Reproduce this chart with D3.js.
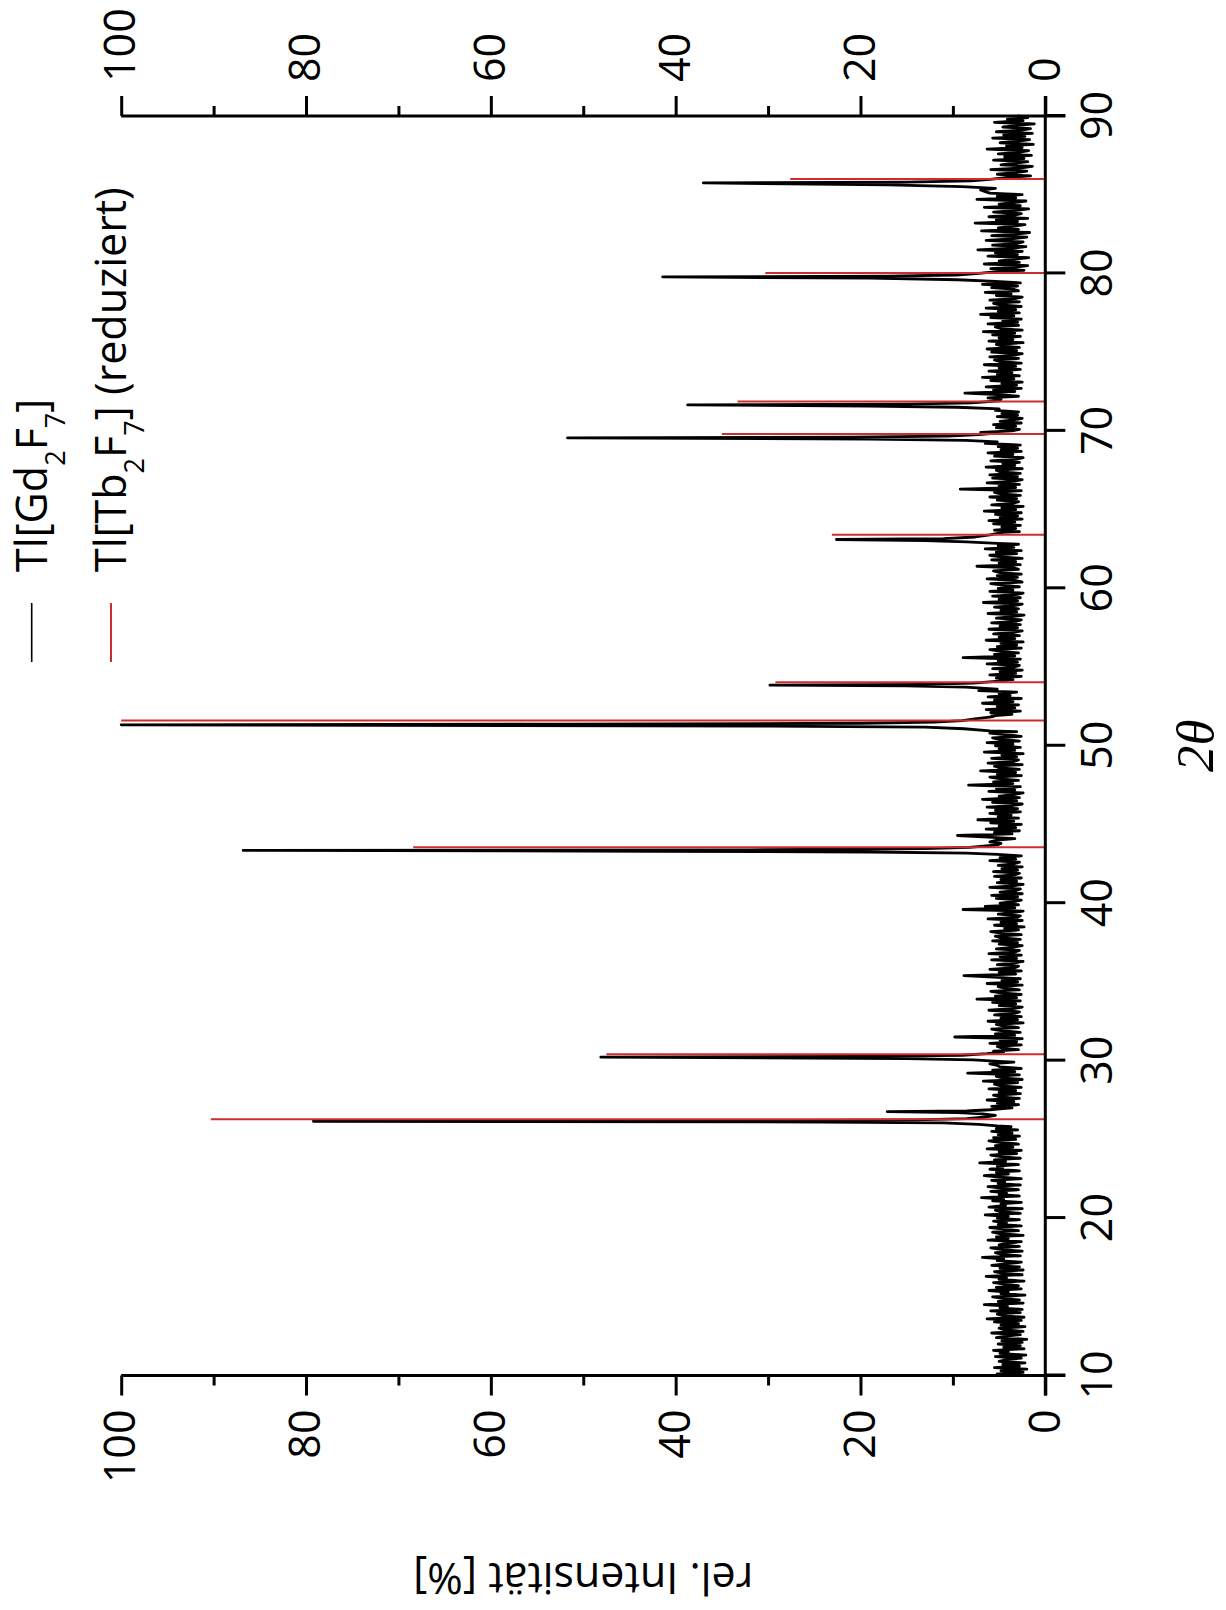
<!DOCTYPE html>
<html>
<head>
<meta charset="utf-8">
<script src="https://cdn.jsdelivr.net/npm/d3@7"></script>
<style>
  body { margin: 0; background: #fff; }
  svg { display: block; }
</style>
</head>
<body>
<script>
// x-axis / tick values
const twoThetaTicks = [10, 20, 30, 40, 50, 60, 70, 80, 90];
const intTicks = [0, 20, 40, 60, 80, 100];
const intMinorTicks = [10, 30, 50, 70, 90];

// Tl[Gd2F7] measured pattern: background noise, one value every 0.1 deg from 10.0 to 90.0
const gdStart = 10, gdStep = 0.1;
const gdBackground = [
  4.1,5.2,2.4,4.8,2.0,5.5,2.8,4.6,2.2,5.0,4.3,2.6,5.4,2.1,4.9,4.0,5.6,2.3,4.5,2.7,
  5.1,2.5,4.7,2.0,5.3,4.2,2.7,5.8,2.4,4.4,5.0,2.2,4.8,2.9,5.5,2.6,6.3,2.3,4.6,5.2,
  2.7,5.9,2.5,4.9,4.1,6.6,2.4,5.1,2.8,4.5,5.7,2.2,4.8,4.0,6.1,2.6,5.3,2.9,4.4,5.6,
  2.3,5.0,4.2,6.4,2.5,4.7,5.5,2.4,4.9,2.8,5.8,4.1,2.6,5.2,4.5,6.8,2.7,4.8,5.4,2.5,
  4.6,5.9,2.8,5.0,4.3,2.6,6.2,4.0,5.3,2.4,4.8,5.7,2.9,4.4,6.0,2.6,5.1,4.2,5.6,2.8,
  5.2,4.0,6.5,2.7,4.9,5.4,2.5,6.1,4.3,4.8,2.6,5.7,4.5,6.9,2.8,5.0,4.2,5.9,2.9,4.7,
  6.2,2.7,5.1,4.4,5.8,2.6,4.9,6.6,4.0,5.3,2.8,6.0,4.6,5.2,2.9,7.1,4.3,5.5,2.7,4.8,
  5.9,3.1,5.0,2.6,6.3,3.5,5.4,2.9,4.8,6.1,3.2,5.6,2.8,5.1,3.6,5.8,3.0,5.3,3.7,5.5,
  6.0,7.5,9.0,6.5,5.2,4.8,6.0,6.5,7.0,5.5,3.6,5.8,2.9,5.2,3.4,6.3,2.8,4.9,5.6,2.7,
  5.0,3.2,6.1,2.6,4.8,5.5,3.0,6.7,2.5,4.6,5.3,2.8,8.4,3.3,5.7,2.6,4.9,5.2,6.0,3.4,
  5.5,7.0,8.0,6.0,5.0,4.2,5.6,2.9,4.7,5.2,2.6,6.0,3.1,4.9,2.5,9.8,3.3,5.4,2.7,4.8,
  5.8,2.9,4.6,5.3,2.4,6.2,3.0,4.8,2.6,5.5,3.3,2.8,6.1,3.5,2.5,5.0,3.2,5.7,2.7,7.4,
  3.1,5.4,2.6,4.8,5.9,2.8,4.4,5.1,2.5,6.3,3.0,4.7,2.7,5.6,8.8,3.2,5.0,2.6,6.0,3.3,
  2.9,5.2,3.5,2.4,5.8,3.1,4.9,2.6,6.1,3.3,2.8,5.3,3.6,2.5,5.0,3.0,5.7,2.7,4.8,5.4,
  2.6,4.7,5.9,2.9,4.4,2.3,5.5,3.1,4.8,2.5,6.2,3.0,2.7,5.1,3.6,2.4,8.9,3.3,6.5,2.9,
  4.9,3.4,2.6,5.3,3.0,5.8,2.5,4.9,3.2,2.7,6.0,3.5,2.4,5.2,3.1,4.8,2.6,5.5,3.3,2.8,
  5.6,3.0,4.7,2.5,5.1,3.4,2.8,6.0,3.2,4.9,2.6,5.3,3.5,5.8,6.5,9.0,7.0,5.5,4.8,6.0,
  5.2,3.3,6.2,9.5,3.6,5.5,2.8,6.4,3.2,5.0,2.6,5.9,3.4,7.3,2.9,5.1,3.7,6.0,2.7,5.4,
  3.0,6.3,3.6,2.5,5.7,3.1,6.8,2.8,5.0,3.4,2.4,6.1,3.3,5.3,2.7,8.3,3.5,5.6,2.9,4.8,
  6.0,2.6,5.2,3.2,7.0,2.8,4.9,5.5,2.5,6.2,3.4,2.9,5.8,3.1,4.7,2.4,6.6,3.3,5.0,2.7,
  5.4,3.5,6.3,2.8,4.9,5.7,2.6,4.4,6.0,3.1,5.1,3.0,6.5,9.0,9.0,9.0,9.0,8.0,6.5,5.8,
  3.6,5.9,2.7,6.4,3.3,5.2,2.9,6.8,3.5,5.5,2.6,6.2,3.8,5.0,3.1,7.2,3.4,5.6,6.5,8.0,
  7.0,6.0,3.5,5.3,2.6,6.0,3.2,4.9,2.5,5.7,3.4,2.8,6.3,3.0,5.1,2.7,8.9,3.3,5.5,2.9,
  4.7,6.0,2.6,5.2,3.1,4.8,2.4,6.4,3.3,5.0,2.8,5.6,3.5,2.5,6.1,3.0,4.9,2.7,5.8,3.2,
  2.6,5.3,3.6,2.3,6.2,3.1,4.8,2.9,5.5,3.4,2.5,6.7,3.0,5.0,2.7,5.7,3.2,2.4,6.0,3.5,
  5.1,2.8,4.6,5.9,2.5,3.3,6.3,3.0,5.2,2.6,4.9,5.6,2.9,3.4,7.4,2.7,5.0,3.2,5.8,2.5,
  4.8,6.0,3.1,5.3,2.6,6.5,3.4,5.1,2.9,6.2,8.0,7.0,7.5,6.0,5.0,6.4,2.8,5.5,3.2,4.7,
  2.7,5.6,3.3,6.1,2.5,4.9,3.0,5.4,2.6,6.6,3.2,4.7,2.4,5.8,3.5,2.9,5.2,3.1,6.0,2.7,
  4.8,5.5,2.6,9.2,3.2,5.0,2.8,6.3,3.4,2.5,5.7,3.0,6.0,2.7,4.9,5.3,2.5,6.4,3.3,4.6,
  2.8,5.9,3.1,2.4,5.5,3.5,6.2,2.6,4.8,3.0,5.1,2.7,6.5,3.4,5.0,7.0,8.0,6.0,5.5,7.0,
  3.6,2.8,5.3,3.2,5.6,2.6,4.9,3.4,2.5,5.2,3.0,4.7,2.9,5.4,3.3,6.5,7.0,8.0,6.5,5.0,
  4.8,6.2,2.9,5.1,8.7,3.3,5.6,2.6,6.4,3.1,4.7,2.5,5.9,3.4,6.8,2.8,5.2,3.6,6.1,2.7,
  5.0,3.2,6.6,2.6,4.9,5.5,2.9,6.0,3.4,2.5,5.8,3.1,6.3,2.8,4.7,5.3,2.4,6.1,3.5,5.0,
  2.7,5.7,3.3,6.7,2.5,4.8,5.4,2.9,6.2,3.0,4.6,2.6,5.9,3.4,7.0,2.8,5.1,3.2,6.4,2.6,
  4.9,5.6,2.8,6.0,3.3,2.5,5.3,3.7,6.5,2.9,3.5,5.8,3.0,6.8,2.7,5.5,7.0,8.0,7.0,6.0,
  6.0,3.8,2.3,5.9,3.2,1.9,6.6,2.8,5.0,3.4,1.8,6.2,3.0,5.4,2.5,7.3,3.5,2.1,5.7,3.1,
  2.4,6.4,3.6,2.0,5.8,3.2,1.7,6.9,2.9,5.1,3.5,2.2,7.6,3.0,5.3,1.9,6.1,3.3,2.6,5.6,
  3.1,1.8,6.6,2.7,5.0,3.4,2.1,7.4,3.2,5.2,2.5,6.0,6.5,7.0,8.0,7.0,7.5,6.0,4.6,3.3,
  4.6,2.9,1.6,5.2,3.2,2.0,5.9,2.6,1.4,4.8,3.4,1.9,5.6,2.3,4.4,1.5,5.1,2.8,1.8,6.3,
  2.5,4.2,1.3,4.9,2.9,1.7,5.7,2.2,4.5,1.4,5.3,2.6,1.6,4.6,3.1,1.2,5.5,2.4,4.1,1.9,
  3.0
];

// Tl[Gd2F7] reflections, [2theta, intensity] read point by point
const gdPeaks = [
  [[25.85,5.2],[25.95,7.2],[26.04,11],[26.1,24],[26.15,79.2],[26.18,36],[26.24,14],[26.32,8.5],[26.42,6.4],[26.52,5.4],[26.62,6.8],[26.7,9.5],[26.76,17.1],[26.8,8.5],[26.88,6],[26.95,4.6]],
  [[29.95,5.0],[30.05,7.8],[30.13,15],[30.22,48.1],[30.27,20],[30.34,9],[30.44,6.3],[30.55,4.5]],
  [[43.1,5.2],[43.18,8.5],[43.25,19],[43.3,42],[43.35,86.8],[43.39,32],[43.46,13],[43.55,8.2],[43.7,5.2]],
  [[50.95,6.0],[51.08,8.8],[51.18,13],[51.25,30],[51.33,100],[51.37,52],[51.43,20],[51.5,12],[51.6,9],[51.72,7.4],[51.85,5.6]],
  [[53.6,5.2],[53.72,8.6],[53.8,15],[53.85,29.8],[53.9,13],[53.98,7.8],[54.1,5.0]],
  [[62.85,5.2],[62.95,8.5],[63.03,13],[63.1,22.6],[63.16,11],[63.26,7.6],[63.4,6],[63.55,4.6]],
  [[69.3,5.2],[69.4,8.6],[69.48,19],[69.55,51.7],[69.6,21],[69.67,10.5],[69.76,7.2],[69.88,5.0]],
  [[71.4,5.0],[71.5,9.5],[71.58,19],[71.65,38.7],[71.7,15],[71.78,8],[71.9,5.0]],
  [[79.5,5.4],[79.6,9.5],[79.7,19],[79.78,41.4],[79.83,17],[79.9,9.6],[80.0,7.2],[80.15,4.6]],
  [[85.4,5.4],[85.52,9],[85.62,17],[85.75,37],[85.8,15],[85.88,8],[85.98,6],[86.1,4.0]]
];

// Tl[Tb2F7] (reduziert) reference lines
const tbPos = [26.28, 30.4, 43.56, 51.6, 54.04, 63.4, 69.8, 71.87, 80.02, 86.0];
const tbInt = [90.3, 47.5, 68.4, 100, 29.2, 23.1, 35.0, 33.3, 30.3, 27.6];

const W = 1226, H = 1610;
const font = '"Open Sans", "Noto Sans", sans-serif';
const red = '#cc2e2e';

const svg = d3.select('body').append('svg')
    .attr('width', W)
    .attr('height', H);

// the whole figure is turned a quarter turn counter-clockwise
const plot = svg.append('g')
    .attr('transform', `translate(0,${H}) rotate(-90)`);

const x = d3.scaleLinear().domain([10, 90]).range([234.5, 1494]);
const y = d3.scaleLinear().domain([0, 100]).range([1045.3, 121.2]);

// build the measured curve
const gdPoints = [];
gdBackground.forEach((v, i) => {
    const t = gdStart + i * gdStep;
    const inPeak = gdPeaks.some(p => t >= p[0][0] - 1e-6 && t <= p[p.length - 1][0] + 1e-6);
    if (!inPeak) gdPoints.push([t, v]);
});
gdPeaks.forEach(p => p.forEach(d => gdPoints.push(d)));
gdPoints.sort((a, b) => a[0] - b[0]);

const line = d3.line().x(d => x(d[0])).y(d => y(d[1]));

plot.append('path')
    .datum(gdPoints)
    .attr('fill', 'none')
    .attr('stroke', '#000')
    .attr('stroke-width', 2.8)
    .attr('stroke-linejoin', 'round')
    .attr('d', line);

plot.selectAll('.stick')
    .data(tbPos)
    .enter()
    .append('line')
    .attr('class', 'stick')
    .attr('x1', d => x(d))
    .attr('x2', d => x(d))
    .attr('y1', y(0))
    .attr('y2', (d, i) => y(tbInt[i]))
    .attr('stroke', red)
    .attr('stroke-width', 2);

// axes
const styleAxis = a => {
    a.select('.domain').remove();
    a.selectAll('line').attr('stroke', '#000').attr('stroke-width', 3);
    a.selectAll('text').attr('font-size', 43).attr('font-family', font).attr('fill', '#000');
};

plot.append('g')
    .attr('transform', `translate(0,${y(0)})`)
    .call(d3.axisBottom(x).tickValues(twoThetaTicks).tickSize(20).tickPadding(16).tickFormat(d3.format('d')))
    .call(styleAxis);

plot.append('g')
    .attr('transform', `translate(${x(10)},0)`)
    .call(d3.axisLeft(y).tickValues(intTicks).tickSize(20).tickPadding(14).tickFormat(d3.format('d')))
    .call(styleAxis);
plot.append('g')
    .attr('transform', `translate(${x(10)},0)`)
    .call(d3.axisLeft(y).tickValues(intMinorTicks).tickSize(10).tickFormat(''))
    .call(styleAxis);

plot.append('g')
    .attr('transform', `translate(${x(90)},0)`)
    .call(d3.axisRight(y).tickValues(intTicks).tickSize(20).tickPadding(14).tickFormat(d3.format('d')))
    .call(styleAxis);
plot.append('g')
    .attr('transform', `translate(${x(90)},0)`)
    .call(d3.axisRight(y).tickValues(intMinorTicks).tickSize(10).tickFormat(''))
    .call(styleAxis);

// axis lines, running past the corners by a tick length
plot.append('line')
    .attr('x1', x(10) - 20).attr('x2', x(90) + 20)
    .attr('y1', y(0)).attr('y2', y(0))
    .attr('stroke', '#000').attr('stroke-width', 3);
[10, 90].forEach(t => {
    plot.append('line')
        .attr('x1', x(t)).attr('x2', x(t))
        .attr('y1', y(100)).attr('y2', y(0) + 20)
        .attr('stroke', '#000').attr('stroke-width', 3);
});

// axis titles
plot.append('text')
    .attr('x', (x(10) + x(90)) / 2)
    .attr('y', 1213)
    .attr('text-anchor', 'middle')
    .attr('font-family', '"Liberation Serif", "DejaVu Serif", serif')
    .attr('font-style', 'italic')
    .attr('font-size', 53)
    .text('2\u03B8');

plot.append('text')
    .attr('transform', `translate(47,${(y(0) + y(100)) / 2}) rotate(-90)`)
    .attr('text-anchor', 'middle')
    .attr('font-family', font)
    .attr('font-size', 43)
    .text('rel. Intensität [%]');

// legend
const legend = plot.append('g').attr('font-family', font).attr('font-size', 43);
const legendItems = [
    {color: '#000', width: 1.6, y: 31.7, parts: [['Tl[Gd'], ['2', 1], ['F'], ['7', 1], [']']]},
    {color: red, width: 2, y: 111, parts: [['Tl[Tb'], ['2', 1], ['F'], ['7', 1], ['] (reduziert)']]}
];
legendItems.forEach(item => {
    legend.append('line')
        .attr('x1', 948).attr('x2', 1007)
        .attr('y1', item.y).attr('y2', item.y)
        .attr('stroke', item.color).attr('stroke-width', item.width);
    const t = legend.append('text')
        .attr('x', 1038)
        .attr('y', item.y + 15);
    item.parts.forEach(p => {
        const s = t.append('tspan').text(p[0]);
        if (p[1]) s.attr('font-size', 27).attr('dy', 18);
        else if (t.selectAll('tspan').size() > 1) s.attr('dy', -18);
    });
});
</script>
</body>
</html>
